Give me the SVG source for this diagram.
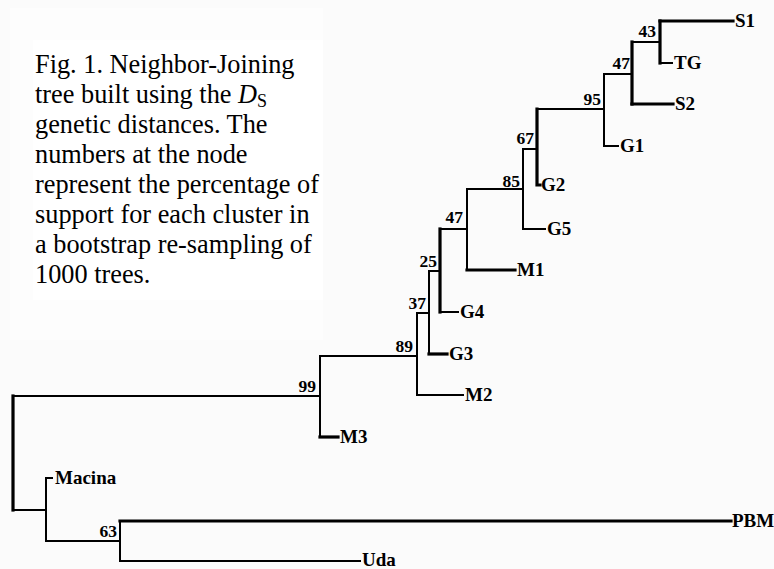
<svg xmlns="http://www.w3.org/2000/svg" width="774" height="569" viewBox="0 0 774 569">
<style>
.e{fill:none;stroke:#000;stroke-width:2;stroke-linecap:square}
.k{stroke-width:3.2}
.lbl{font-family:"Liberation Serif","Times New Roman",serif;font-weight:bold;font-size:19px;fill:#000}
.bs{font-family:"Liberation Serif","Times New Roman",serif;font-weight:bold;font-size:17.5px;fill:#000;text-anchor:end}
.cap{font-family:"Liberation Serif","Times New Roman",serif;font-size:26.3px;fill:#000}
</style>
<rect width="774" height="569" fill="#fbfbfb"/>
<rect x="10" y="8" width="313" height="332" fill="#fdfdfd"/>
<rect x="33" y="40" width="290" height="260" fill="#ffffff"/>
<g id="caption">
<text class="cap" x="35" y="73">Fig. 1. Neighbor-Joining</text>
<text class="cap" x="35" y="103">tree built using the <tspan font-style="italic">D</tspan><tspan font-size="18" dy="4">S</tspan></text>
<text class="cap" x="35" y="133">genetic distances. The</text>
<text class="cap" x="35" y="163">numbers at the node</text>
<text class="cap" x="35" y="193">represent the percentage of</text>
<text class="cap" x="35" y="223">support for each cluster in</text>
<text class="cap" x="35" y="253">a bootstrap re-sampling of</text>
<text class="cap" x="35" y="283">1000 trees.</text>
</g>
<g id="connectors">
<path class="e k" d="M660,21H733"/>
<path class="e k" d="M660,21V63"/>
<path class="e" d="M660,63H672"/>
<path class="e" d="M632,42H660"/>
<path class="e k" d="M632,42V104"/>
<path class="e k" d="M632,104H673"/>
<path class="e" d="M604,74H632"/>
<path class="e" d="M604,74V146H618"/>
<path class="e" d="M537,109H604"/>
<path class="e k" d="M537,109V185H540"/>
<path class="e" d="M523,149H537"/>
<path class="e" d="M523,149V229H545"/>
<path class="e" d="M467,189H523"/>
<path class="e" d="M467,189V270"/>
<path class="e k" d="M467,270H515"/>
<path class="e" d="M440,229H467"/>
<path class="e k" d="M440,229V312"/>
<path class="e" d="M440,312H458"/>
<path class="e" d="M429,271H440"/>
<path class="e" d="M429,271V354"/>
<path class="e k" d="M429,354H447"/>
<path class="e" d="M417,313H429"/>
<path class="e" d="M417,313V395H463"/>
<path class="e" d="M320,356H417"/>
<path class="e" d="M320,356V437"/>
<path class="e k" d="M320,437H338"/>
<path class="e" d="M13,396H320"/>
<path class="e k" d="M13,396V510"/>
<path class="e" d="M13,510H46"/>
<path class="e" d="M52,478H46V541H120"/>
<path class="e" d="M120,521V561H360"/>
<path class="e k" d="M120,521H731"/>
</g>
<g id="bootstrap">
<text class="bs" x="656" y="37">43</text>
<text class="bs" x="630" y="69">47</text>
<text class="bs" x="601" y="105">95</text>
<text class="bs" x="534" y="144">67</text>
<text class="bs" x="520" y="187">85</text>
<text class="bs" x="463" y="223">47</text>
<text class="bs" x="437" y="267">25</text>
<text class="bs" x="426" y="309">37</text>
<text class="bs" x="413" y="352">89</text>
<text class="bs" x="316" y="392">99</text>
<text class="bs" x="117" y="537">63</text>
</g>
<g id="S1"><text class="lbl" x="735" y="27">S1</text></g>
<g id="TG"><text class="lbl" x="674" y="69">TG</text></g>
<g id="S2"><text class="lbl" x="675" y="110">S2</text></g>
<g id="G1"><text class="lbl" x="620" y="152">G1</text></g>
<g id="G2"><text class="lbl" x="541" y="191">G2</text></g>
<g id="G5"><text class="lbl" x="547" y="235">G5</text></g>
<g id="M1"><text class="lbl" x="517" y="276">M1</text></g>
<g id="G4"><text class="lbl" x="460" y="318">G4</text></g>
<g id="G3"><text class="lbl" x="449" y="360">G3</text></g>
<g id="M2"><text class="lbl" x="465" y="401">M2</text></g>
<g id="M3"><text class="lbl" x="340" y="443">M3</text></g>
<g id="Macina"><text class="lbl" x="55" y="484">Macina</text></g>
<g id="PBM"><text class="lbl" x="732" y="527" font-size="18">PBM</text></g>
<g id="Uda"><text class="lbl" x="362" y="566">Uda</text></g>
</svg>
